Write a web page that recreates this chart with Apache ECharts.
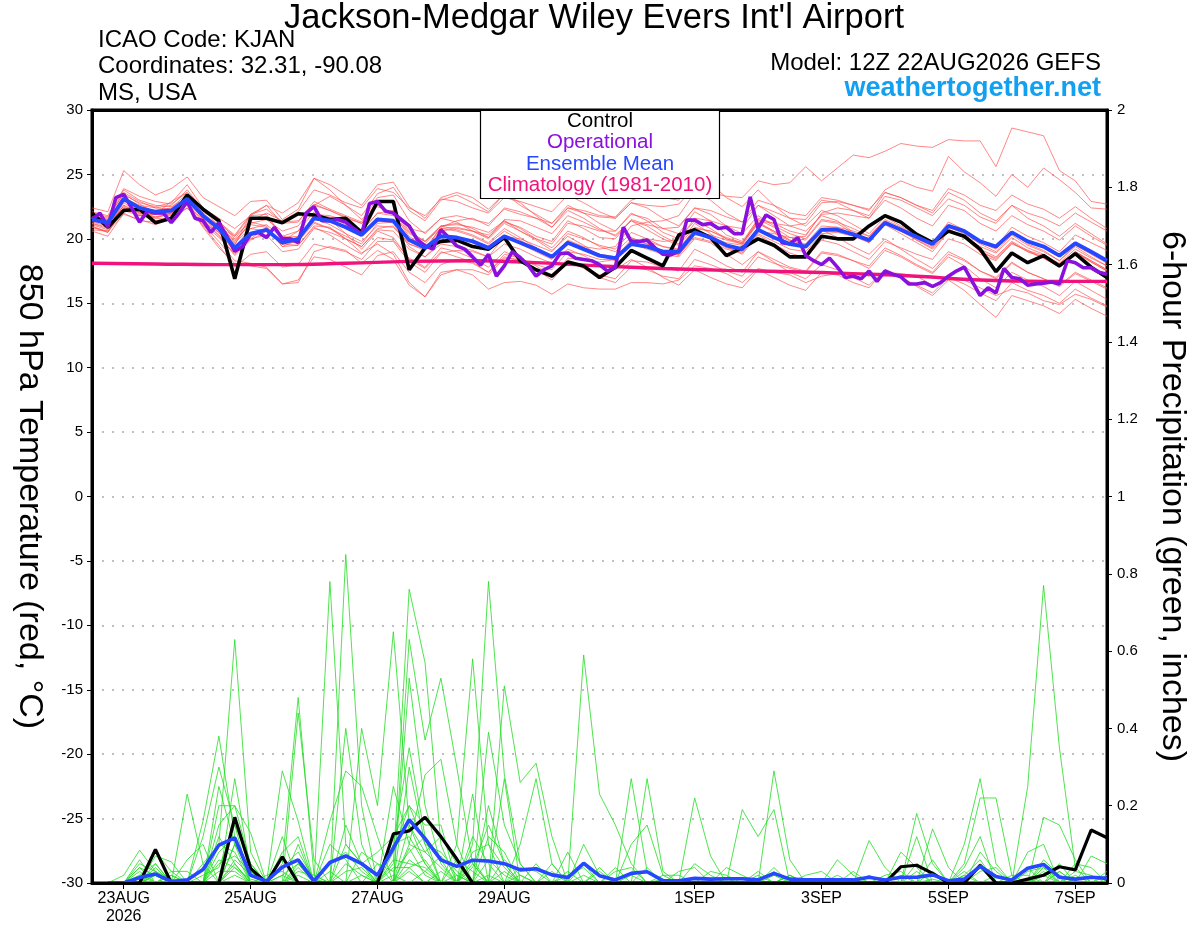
<!DOCTYPE html>
<html>
<head>
<meta charset="utf-8">
<title>KJAN GEFS 850 hPa temperature and 6-hour precipitation</title>
<script src="https://cdn.jsdelivr.net/npm/echarts@6/dist/echarts.min.js"></script>
<style>
  html, body { margin: 0; padding: 0; background: #fff; }
  #chart { width: 1200px; height: 927px; }
</style>
</head>
<body>
<div id="chart"></div>
<script>
// Hours are counted from the model run, 12Z 22AUG2026.
// Ensemble output comes every 6 h, the operational run every 3 h,
// and 6-hour precipitation starts at hour 6.
var ENS_STEP = 6;
var OPER_STEP = 3;
var CLIM_STEP = 24;
var PRECIP_START = 6;

var dateTickHours = [12, 60, 108, 156, 228, 276, 324, 372];
var dateTickLabels = ['23AUG\n2026', '25AUG', '27AUG', '29AUG', '1SEP', '3SEP', '5SEP', '7SEP'];

// 850 hPa temperature, deg C
var controlTemp = [22.0,20.9,22.2,22.3,21.25,21.6,23.4,22.3, 21.4,16.9,21.6,21.6,21.25,21.95,21.85,21.5,
  21.6,20.5,22.9,22.9,17.6,19.3,19.8,19.9, 19.4,19.2,20.1,18.3,17.6,17.1,18.2,17.9,
  17.0,17.8,19.1,18.5,17.9,20.3,20.7,20.1, 18.7,19.3,20.0,19.5,18.6,18.6,20.2,20.0,
  20.0,21.0,21.8,21.3,20.35,19.7,20.6,20.2, 19.2,17.45,18.9,18.15,18.7,17.9,18.85,17.8, 17.0];

var meanTemp = [21.5,21.25,23.1,22.4,22.1,22.2,23.1,21.8, 20.8,19.3,20.4,20.7,19.7,20.0,21.6,21.4,
  20.9,20.3,21.5,21.4,19.9,19.3,20.2,20.1, 19.8,19.3,20.2,19.7,19.2,18.6,19.7,19.2,
  18.7,18.5,19.6,19.4,19.0,19.0,20.5,20.1, 19.5,19.2,20.7,20.1,19.6,19.4,20.7,20.7,
  20.35,19.9,21.25,20.7,20.15,19.6,21.0,20.6, 19.8,19.4,20.5,19.8,19.4,18.7,19.65,19.0, 18.3];

var operTemp = [21.5,22.0,20.9,23.2,23.45,22.4,21.3,22.15,22.0,22.0,21.25,22.0,22.9,21.6,21.4,20.5,
  21.25,20.2,19.05,19.4,20.35,20.5,20.1,20.9,20.0,20.0,19.7,22.0,22.5,21.4,21.4,21.5,
  21.3,20.8,20.35,22.75,22.9,22.15,22.0,21.5,21.0,19.95,19.45,19.2,20.7,20.1,19.45,19.2,
  18.6,17.95,18.8,17.1,17.9,19.0,18.55,17.95,17.1,17.6,17.9,18.85,18.9,18.5,18.4,18.3,
  18.0,17.5,17.8,20.9,19.8,19.8,19.9,19.3,18.8,18.75,19.05,21.45,21.45,21.1,21.2,20.8,
  20.9,20.4,20.4,23.25,20.8,21.85,21.5,19.7,19.6,20.1,18.7,18.3,18.0,18.5,17.8,17.0,
  17.1,16.9,17.5,16.7,17.5,17.25,17.05,16.5,16.5,16.6,16.3,16.6,17.1,17.5,17.8,16.7,
  15.6,16.2,15.8,17.7,17.0,16.9,16.4,16.5,16.55,16.65,16.5,18.3,18.15,17.75,17.75,17.4, 17.25];

var climTemp = [18.1,18.05,18.0,18.0,18.1,18.25,18.3,18.15,17.9,17.7,17.55,17.45,17.3,17.1,16.8,16.7,16.7];

var tempMembers = [
  [21.8,21.5,23.6,22.9,22.4,22.6,23.8,22.3, 21.0,19.8,21.2,21.5,20.6,21.0,22.6,22.2, 21.6,21.2,22.5,22.0,20.8,20.5,21.6,21.8, 21.5,21.2,22.3,21.9,21.6,21.2,22.4,22.0, 21.7,21.6,22.8,22.6,22.5,22.7,24.0,23.6, 23.3,23.2,24.5,24.2,24.35,25.6,24.5,25.5, 26.5,26.3,26.8,27.4,27.2,27.1,27.7,27.6, 27.6,25.6,28.6,28.3,28.0,25.3,24.5,22.9, 22.7],
  [21.2,20.8,22.8,22.0,21.6,22.0,23.4,21.5, 20.2,18.8,20.0,20.9,19.4,19.9,21.9,21.8, 21.4,20.6,22.0,22.2,20.6,19.8,21.0,21.2, 20.8,20.1,21.3,20.9,20.2,19.8,21.4,20.8, 20.1,20.0,21.5,21.1,20.8,20.9,22.4,22.2, 21.7,21.3,23.0,22.6,22.0,21.8,23.2,23.0, 22.6,22.2,23.8,24.5,24.0,23.7,26.4,25.2, 24.35,23.3,25.0,24.0,25.5,24.6,23.6,22.4, 22.3],
  [20.7,20.6,21.9,21.5,21.1,21.6,22.7,20.9, 19.3,18.1,17.9,17.7,16.5,16.6,19.0,19.4, 19.1,18.1,19.1,18.4,16.4,15.5,17.4,17.6, 17.2,16.1,16.6,16.7,16.4,15.7,16.5,16.2, 16.1,16.1,16.6,16.6,16.5,16.8,17.9,17.7, 17.3,16.6,17.7,17.4,17.2,16.6,17.1,17.3, 17.3,17.1,17.4,17.3,17.1,16.4,16.8,16.8, 16.2,15.6,16.1,15.8,15.2,14.9,15.7,15.3, 14.7],
  [22.4,22.1,25.3,24.2,23.4,23.9,24.8,23.2, 22.5,21.8,22.9,23.0,21.5,22.3,24.7,23.8, 22.6,21.8,23.5,24.0,22.2,21.4,23.0,23.4, 22.8,22.1,23.5,22.6,21.9,21.2,22.6,22.0, 21.2,20.6,21.9,21.6,20.8,20.4,22.1,21.4, 20.3,19.8,21.5,20.9,20.1,19.9,21.4,21.2, 20.4,19.7,21.3,20.8,19.9,19.2,20.6,20.1, 19.0,18.4,19.6,19.1,18.5,17.8,18.9,18.2, 17.5],
  [21.0,20.5,22.4,21.8,21.9,22.9,23.6,22.4, 21.6,20.8,21.8,21.9,20.2,20.6,22.1,21.5, 20.4,19.2,20.6,20.1,18.4,17.7,19.0,18.6, 18.2,17.4,18.6,18.3,17.6,17.0,18.5,18.4, 18.2,18.4,19.8,20.0,19.8,19.9,21.6,21.4, 21.0,20.8,22.6,22.1,21.6,21.5,23.0,22.8, 22.2,21.6,23.0,22.4,21.6,21.0,22.6,22.2, 21.2,20.6,21.8,21.1,20.6,19.9,21.0,20.2, 19.5],
  [21.9,21.6,23.8,23.0,22.6,22.5,23.2,21.6, 20.9,20.2,21.8,22.6,22.0,22.8,24.7,24.2, 23.4,22.6,24.2,24.4,22.5,21.6,23.2,23.6, 23.2,22.3,23.5,22.8,21.8,20.9,22.2,21.6, 20.8,20.2,21.4,21.0,20.2,19.6,21.2,20.4, 19.4,18.8,20.3,19.6,18.9,18.5,19.9,19.6, 19.0,18.4,19.8,19.3,18.8,18.4,20.0,19.6, 18.8,18.3,19.7,19.0,18.6,17.9,19.0,18.3, 17.6],
  [21.2,20.9,22.6,22.0,21.6,21.5,22.4,21.1, 19.8,18.3,18.1,17.8,16.5,16.8,18.6,18.4, 17.8,17.2,18.7,19.0,17.4,16.6,18.0,18.4, 18.1,17.4,18.8,18.5,17.6,16.8,18.2,17.8, 17.2,16.9,18.3,18.2,17.8,17.5,19.2,18.6, 17.9,17.4,19.0,18.4,17.8,17.5,19.0,18.8, 18.3,17.7,19.1,18.6,17.9,17.3,18.6,17.9, 16.9,16.2,17.4,16.8,16.3,15.6,16.7,16.0, 15.3],
  [21.6,21.3,23.4,22.8,22.5,22.8,24.2,22.4, 21.2,20.2,21.3,21.0,19.6,19.8,21.2,20.8, 20.0,19.4,20.8,21.0,19.6,19.1,20.9,21.4, 21.6,21.0,22.4,22.1,21.6,20.9,22.4,22.2, 21.8,21.7,23.0,23.4,23.2,23.0,25.1,24.3, 23.2,22.5,23.8,22.6,21.6,21.0,22.2,21.8, 21.1,20.4,21.7,21.0,20.3,19.6,20.8,20.1, 19.0,18.5,19.7,19.0,18.5,17.8,19.0,18.2, 17.5],
  [20.9,20.6,22.2,21.8,21.7,22.0,23.0,21.9, 20.6,19.5,21.9,22.6,21.2,21.3,22.9,22.3, 21.8,21.3,23.2,23.4,21.4,20.4,21.6,21.3, 20.6,20.0,21.2,20.6,20.0,19.6,21.2,21.0, 20.6,20.6,22.0,21.4,20.5,20.0,21.4,20.8, 20.0,19.6,21.6,21.2,20.6,20.3,21.9,22.0, 21.8,21.6,23.3,23.0,22.4,21.8,23.1,22.6, 21.7,21.2,22.6,22.0,21.6,21.0,22.0,21.3, 20.6],
  [21.4,21.1,23.0,22.2,21.9,22.0,22.9,21.6, 20.6,19.0,20.0,20.3,19.0,19.2,20.8,20.5, 20.0,19.4,20.7,20.6,19.2,18.6,19.6,19.4, 19.1,18.6,19.6,19.2,18.6,18.1,19.2,18.7, 18.0,17.6,18.4,17.8,17.0,16.4,17.6,17.0, 16.5,16.2,17.6,17.0,16.4,16.0,17.4,17.2, 16.6,16.2,17.6,17.0,16.3,15.6,16.8,16.0, 14.9,13.9,15.6,15.2,14.8,14.2,15.3,14.6, 14.0],
  [21.7,21.5,23.2,22.6,22.4,22.3,23.1,21.8, 20.9,19.6,21.4,22.0,21.4,22.1,23.8,23.4, 22.8,22.4,23.9,23.6,22.4,21.8,23.1,22.9, 22.4,22.0,23.2,22.9,22.5,22.1,23.4,22.8, 22.1,21.6,22.8,22.4,21.6,21.0,22.4,21.9, 21.0,20.4,21.8,21.0,20.4,20.0,21.5,21.3, 20.8,20.2,21.4,20.7,20.0,19.4,20.9,20.4, 19.6,19.0,20.3,19.5,19.0,18.3,19.5,18.8, 18.1],
  [20.6,20.2,22.0,21.4,21.3,21.6,22.8,21.4, 20.3,18.7,19.9,20.6,19.8,20.6,22.6,23.3, 22.6,21.5,22.7,21.9,20.2,19.3,20.8,20.9, 20.6,20.1,21.5,21.4,20.9,20.4,21.8,21.3, 20.7,20.3,21.4,20.7,20.0,19.5,20.9,20.6, 20.0,19.7,21.2,20.6,19.9,19.5,20.7,20.1, 19.4,18.8,20.0,19.2,18.4,17.7,19.0,18.4, 17.5,17.0,18.2,17.4,16.9,16.4,17.4,16.8, 16.2],
  [22.0,21.7,23.5,22.7,22.0,21.8,22.6,21.0, 19.5,17.8,18.8,19.0,17.8,18.0,19.6,19.3, 19.0,18.4,19.8,19.8,18.2,17.4,18.9,19.1, 19.0,18.6,20.2,20.0,19.5,19.0,20.4,20.0, 19.5,19.2,20.5,20.0,19.4,19.1,20.5,20.0, 19.3,19.0,20.6,20.4,20.1,20.2,22.0,22.4, 22.2,21.8,23.6,23.2,22.6,22.0,23.6,23.0, 22.0,21.4,22.6,21.6,21.0,20.2,21.2,20.4, 19.6],
  [21.3,21.0,22.9,22.4,22.2,22.4,23.5,22.0, 21.0,19.9,21.1,20.9,19.4,19.5,21.0,20.9, 20.0,18.9,19.6,18.8,16.6,15.5,17.2,17.6, 17.6,17.2,18.5,18.4,18.0,17.6,19.0,18.8, 18.4,18.4,19.9,19.6,19.1,18.7,20.3,20.1, 19.7,19.5,21.2,20.5,19.8,19.4,20.8,20.9, 20.6,20.2,21.5,20.9,20.2,19.7,21.3,20.7, 19.7,19.2,20.5,19.6,19.1,18.3,19.4,18.6, 17.9],
  [21.8,21.4,23.0,22.1,21.7,21.9,22.7,21.3, 20.5,19.4,20.8,21.1,20.1,20.2,21.6,21.1, 20.4,19.8,21.0,20.9,19.6,19.2,20.6,20.8, 20.6,20.3,21.4,20.8,20.0,19.3,20.6,20.1, 19.4,19.0,20.1,19.6,19.0,18.8,20.1,19.8, 19.2,18.9,20.4,19.8,19.2,19.0,20.4,20.5, 20.2,19.7,21.1,20.4,19.7,19.0,20.6,20.2, 19.4,18.9,20.1,19.3,18.8,18.0,19.0,18.3, 17.6],
  [21.1,20.7,22.6,21.9,21.4,21.6,22.4,21.2, 20.1,18.9,20.4,20.8,19.6,19.5,20.9,20.3, 19.5,18.8,20.1,19.9,18.5,17.8,19.3,19.0, 18.5,17.8,19.0,18.5,17.9,17.1,18.3,17.7, 17.0,16.6,17.8,17.6,17.1,16.9,18.4,18.0, 17.5,17.1,18.6,18.1,17.7,17.4,18.9,18.7, 18.3,17.9,19.3,18.7,18.0,17.4,18.8,18.3, 17.5,16.9,18.1,17.4,16.9,16.3,17.3,16.7, 16.1],
  [22.1,21.8,23.9,23.3,22.9,22.7,23.6,22.1, 21.3,20.3,21.9,22.3,21.3,21.4,22.7,22.2, 21.7,21.2,22.6,22.0,20.5,19.8,21.0,20.7, 20.3,19.7,20.8,20.1,19.3,18.6,19.9,19.4, 19.2,19.4,21.0,21.3,21.4,21.8,23.6,23.0, 22.0,21.3,22.6,21.8,21.0,20.6,21.8,21.4, 20.5,20.0,21.3,20.8,20.2,19.5,20.9,20.6, 19.8,19.4,20.9,20.2,19.7,19.0,20.3,19.7, 19.1],
  [21.5,21.2,22.5,21.8,21.9,22.2,23.0,21.8, 21.0,19.7,20.8,20.6,19.6,20.1,21.5,21.3, 21.0,20.6,22.0,21.8,20.4,19.8,20.8,20.6, 20.2,19.6,20.6,19.9,19.2,18.6,19.8,19.3, 18.8,18.4,19.6,19.2,18.8,18.6,20.0,19.7, 18.8,18.0,19.0,18.2,17.4,16.9,18.0,17.6, 17.0,16.4,17.6,17.0,16.4,15.8,17.0,16.5, 15.8,15.2,16.6,16.0,15.6,15.0,16.1,15.4, 14.8],
  [20.9,20.5,22.4,22.1,21.9,22.1,23.3,22.2, 21.4,20.0,21.5,21.7,20.2,20.0,21.3,20.8, 20.2,19.6,21.2,21.3,20.0,19.6,21.0,21.1, 20.9,20.5,21.4,20.6,19.9,19.1,20.2,19.5, 18.7,18.3,19.5,19.4,19.0,18.8,20.5,20.3, 19.9,19.6,21.4,21.2,21.0,21.2,22.8,22.9, 22.6,22.3,23.6,23.2,22.6,22.2,23.9,23.4, 22.6,22.2,23.4,22.7,22.3,21.6,22.5,21.6, 20.8],
  [21.6,21.2,23.2,22.5,22.1,22.0,23.0,21.5, 20.5,19.0,20.3,20.6,19.6,20.0,21.8,21.7, 21.1,20.4,21.6,21.2,19.4,18.6,19.9,19.8, 19.5,19.1,20.2,19.6,19.0,18.4,19.7,19.3, 18.8,18.6,19.9,19.8,19.4,19.2,20.8,20.6, 20.1,19.7,21.3,20.6,19.9,19.6,21.0,20.9, 20.3,19.8,21.2,20.6,19.9,19.3,20.7,20.1, 19.2,18.6,19.8,19.1,18.7,18.1,19.2,18.5, 17.9]
];

// 6-hour precipitation, inches, hours 6..384
var controlPrecip = [0,0,0,0.087,0,0,0,0, 0.17,0.038,0,0.068,0,0,0,0, 0,0,0.127,0.135,0.17,0.12,0.062,0,
  0,0,0,0,0,0,0,0, 0,0,0,0,0,0,0,0, 0,0,0,0,0,0,0,0,
  0,0,0.042,0.046,0.025,0,0,0.046, 0,0,0.01,0.02,0.042,0.034,0.137,0.117];

var meanPrecip = [0,0,0.014,0.023,0.004,0.008,0.035,0.098, 0.117,0.02,0.005,0.041,0.06,0.005,0.053,0.07,
  0.05,0.02,0.09,0.164,0.115,0.06,0.043,0.059, 0.057,0.05,0.034,0.037,0.021,0.014,0.051,0.019,
  0.008,0.025,0.029,0.006,0.006,0.012,0.01,0.011, 0.011,0.008,0.025,0.01,0.008,0.008,0.008,0.008,
  0.015,0.008,0.015,0.015,0.021,0.006,0.01,0.043, 0.017,0.008,0.038,0.048,0.015,0.01,0.015,0.012];

var precipMembers = [
  [0,0,.02,.05,0,0,0,.10, .63,.08,0,.05,.48,.02,0,0, 0,0,.1,.35,.12,0,0,0, .2,.05,0,0,0,0,.05,0, 0,0,0,0,0,0,0,0, 0,0,.04,0,0,0,0,0, 0,0,0,0,0,0,0,.05, 0,0,.25,.77,.35,.04,0,0],
  [0,0,0,.08,.03,0,.16,.38, .12,0,0,0,.1,0,.78,.1, .05,0,0,.53,.2,.05,0,.1, .78,.28,.05,0,0,0,0,0, 0,.27,.03,0,0,0,0,0, 0,0,0,0,0,0,0,0, 0,0,0,.18,.05,0,0,0, 0,0,0,0,0,0,0,0],
  [0,0,.06,0,0,.23,.05,0, .27,.03,0,.29,.16,0,0,.85, .2,0,.05,.76,.57,.1,0,.23, 0,.51,.26,.31,.12,0,0,0, .04,0,0,0,0,.22,.07,0, 0,0,0,0,0,0,0,0, 0,0,0,0,0,0,.1,.27, .05,0,0,0,0,0,0,0],
  [0,.02,.085,.03,0,0,0,.2, .2,.13,0,0,.44,.06,0,0, .4,.2,.65,.15,.05,0,.1,.58, .1,0,0,0,0,0,.59,.23, .15,.05,0,0,0,0,0,0, 0,0,0,0,0,0,0,0, .11,.04,0,0,0,0,0,0, 0,0,0,0,0,0,0,0],
  [0,0,0,.07,.055,0,.12,.3, .15,0,0,.12,0,0,.16,.29, .25,.12,0,.63,.37,.53,.3,.05, 0,0,0,0,0,0,0,0, 0,0,.27,.03,0,0,0,0, 0,0,.29,.06,0,0,0,0, 0,0,0,0,0,0,0,0, 0,0,0,.17,.15,.06,0,0],
  [0,0,.04,0,.02,0,0,.25, .1,.03,0,0,0,0,0,0, 0,0,.25,.1,.28,.32,.1,0, .39,.15,.05,0,0,0,0,0, 0,0,0,0,0,0,0,0, .19,.12,.19,0,0,0,0,0, 0,0,0,0,.14,.04,0,0, 0,0,.08,.1,0,0,.07,.05],
  [0,0,0,.04,0,.06,.1,0, .1,0,0,0,.05,0,0,.15, .05,.08,.12,.2,.15,.15,0,.06, 0,.27,0,.05,0,.08,0,.04, 0,0,0,0,0,0,0,0, 0,0,0,0,0,0,.06,.02, 0,0,0,.12,0,0,.05,.22, .22,.02,0,0,0,0,0,0],
  [0,0,.03,0,0,0,0,.15, .2,.05,0,.08,.12,0,0,.4, .1,0,0,.3,.1,0,0,.12, .05,0,0,0,.05,0,0,0, 0,.1,.15,.02,0,0,0,0, 0,0,0,0,0,0,0,0, 0,0,.08,.04,0,0,.04,.12, 0,0,.04,0,.05,0,0,0],
  [0,0,0,.02,0,0,.05,.1, .08,0,.02,.03,0,0,.1,.06, 0,0,.08,.2,.1,.08,.03,0, 0,0,.1,.27,.05,0,0,0, 0,0,0,0,0,.05,.02,0, 0,0,0,.02,0,0,0,0, 0,0,0,0,.06,0,0,0, 0,0,0,.05,0,.03,.02,0],
  [0,0,.05,.03,0,0,0,.12, .05,0,0,0,.03,.02,0,0, .08,.05,0,.15,.08,.12,.05,0, .12,.08,0,0,0,0,.1,.02, 0,0,0,0,0,0,0,.04, .02,0,0,0,0,0,0,0, 0,.02,.03,0,0,0,0,.08, .03,0,0,0,.03,0,0,.02],
  [0,0,0,0,.03,.03,0,.08, .12,.02,0,0,0,0,0,.1, .05,0,.1,.12,.05,0,0,.08, .1,.04,0,0,0,.03,0,0, 0,0,0,.02,.02,0,0,0, 0,0,0,0,.02,.03,0,0, 0,0,0,0,0,0,.02,.06, 0,0,0,.06,.02,0,0,0],
  [0,0,.01,.02,0,0,0,0, .06,.02,0,.04,.08,.01,0,0, 0,.05,.03,.08,.12,.06,0,0, 0,.06,.02,0,0,0,0,0, .03,.04,0,0,0,0,0,0, 0,0,.03,0,0,0,0,0, .02,0,0,.05,.02,0,0,0, 0,0,.03,.04,0,0,0,0],
  [0,0,0,.05,0,0,.02,.04, .15,.05,0,0,0,0,.05,.08, .03,0,0,.1,.08,.04,0,.04, .15,.05,0,0,0,0,0,0, 0,0,.04,0,0,0,0,0, 0,.03,0,.02,0,0,0,0, 0,0,0,0,0,0,0,.03, .04,0,0,0,0,.05,.04,0],
  [0,0,.02,0,0,0,0,.06, .04,0,0,.02,.05,0,0,0, 0,0,.06,.05,.04,0,.06,.03, 0,0,0,0,0,.02,.04,0, 0,0,0,0,0,0,.03,.02, 0,0,0,0,0,0,0,.03, 0,0,0,0,0,0,.03,0, 0,0,0,.04,.02,0,0,0],
  [0,0,0,.03,.01,0,0,0, .1,.04,0,0,0,0,0,.05, .02,0,0,.06,.03,.07,.02,0, 0,0,.04,.03,0,0,0,0, 0,0,0,0,.03,.04,0,0, 0,0,0,0,0,0,.02,0, 0,0,0,0,.03,0,0,0, 0,.02,.02,0,0,0,0,0],
  [0,0,0,0,0,0,0,.05, .07,.03,0,0,.04,0,0,0, 0,0,.04,.04,.06,0,0,0, .06,.02,0,0,0,0,0,.03, 0,0,0,0,0,0,0,0, 0,0,0,.02,0,0,0,0, 0,0,.02,0,0,0,0,.04, 0,0,0,.03,0,0,0,.03],
  [0,0,.04,.02,0,0,0,0, .05,0,0,0,0,0,0,.03, .04,0,0,.09,.02,0,0,.05, 0,0,0,0,.03,0,0,0, 0,0,0,.01,0,0,0,0, 0,.02,0,0,0,0,0,0, 0,0,0,.03,0,0,0,0, 0,0,0,0,.03,0,0,0],
  [0,0,0,.02,0,0,0,.03, .03,0,0,.02,0,0,.03,0, 0,0,0,.04,0,.03,0,0, 0,.03,0,0,0,0,0,0, 0,.02,0,0,0,0,0,0, 0,0,.02,0,0,0,0,0, 0,0,0,0,0,0,.02,0, 0,0,0,0,0,.02,0,0],
  [0,0,0,0,.02,0,0,0, .02,0,0,0,.02,0,0,0, 0,0,.02,0,.03,0,0,0, .02,0,0,0,0,0,.02,0, 0,0,0,0,0,0,0,0, 0,0,0,0,0,0,0,.01, 0,0,0,0,0,0,0,0, .02,0,0,.02,0,0,0,0],
  [0,0,.01,0,0,0,0,0, .04,.01,0,0,0,0,0,0, .02,0,0,.03,0,0,.02,0, 0,0,.02,0,0,0,0,0, 0,0,0,0,0,0,0,.01, 0,0,0,0,0,0,0,0, 0,0,0,0,.01,0,0,0, 0,0,.01,0,0,0,0,0]
];

var FONT = '"Liberation Sans", Arial, Helvetica, sans-serif';
var COLORS = {
  member: '#ff4f4f',
  precipMember: '#22dd22',
  control: '#000000',
  oper: '#8a10de',
  mean: '#2646ff',
  clim: '#ef137b',
  site: '#14a0f0'
};

function pairs(values, step, start) {
  return values.map(function (v, i) { return [start + i * step, v]; });
}

function lineSeries(name, data, axis, color, width, extra) {
  var s = {
    name: name,
    type: 'line',
    yAxisIndex: axis,
    data: data,
    symbol: 'none',
    silent: true,
    animation: false,
    lineStyle: { color: color, width: width },
    itemStyle: { color: color }
  };
  for (var k in extra || {}) s[k] = extra[k];
  return s;
}

var series = [];
precipMembers.forEach(function (m, i) {
  series.push(lineSeries('precip member ' + (i + 1), pairs(m, ENS_STEP, PRECIP_START), 1, COLORS.precipMember, 0.8));
});
tempMembers.forEach(function (m, i) {
  series.push(lineSeries('member ' + (i + 1), pairs(m, ENS_STEP, 0), 0, COLORS.member, 0.8,
    { lineStyle: { color: COLORS.member, width: 0.8, opacity: 0.85 } }));
});
series.push(lineSeries('Climatology (1981-2010)', pairs(climTemp, CLIM_STEP, 0), 0, COLORS.clim, 3.4, { smooth: true }));
series.push(lineSeries('Control precip', pairs(controlPrecip, ENS_STEP, PRECIP_START), 1, COLORS.control, 3.2));
series.push(lineSeries('Mean precip', pairs(meanPrecip, ENS_STEP, PRECIP_START), 1, COLORS.mean, 3.6));
series.push(lineSeries('Control', pairs(controlTemp, ENS_STEP, 0), 0, COLORS.control, 3.6));
series.push(lineSeries('Operational', pairs(operTemp, OPER_STEP, 0), 0, COLORS.oper, 3.6));
series.push(lineSeries('Ensemble Mean', pairs(meanTemp, ENS_STEP, 0), 0, COLORS.mean, 3.9));

function headerText(text, x, y, size, align, color, weight) {
  return {
    type: 'text', x: x, y: y, z: 100, silent: true,
    style: {
      text: text, fill: color || '#000',
      font: (weight || 'normal') + ' ' + size + 'px ' + FONT,
      textAlign: align, textVerticalAlign: 'middle',
      align: align, verticalAlign: 'middle'
    }
  };
}

var legendItems = [
  ['Control', COLORS.control],
  ['Operational', COLORS.oper],
  ['Ensemble Mean', COLORS.mean],
  ['Climatology (1981-2010)', COLORS.clim]
];

var graphics = [
  headerText("Jackson-Medgar Wiley Evers Int'l Airport", 594, 18, 34.5, 'center'),
  headerText('ICAO Code: KJAN', 98, 40, 24, 'left'),
  headerText('Coordinates: 32.31, -90.08', 98, 66, 24, 'left'),
  headerText('MS, USA', 98, 93, 24, 'left'),
  headerText('Model: 12Z 22AUG2026 GEFS', 1101, 63, 24, 'right'),
  headerText('weathertogether.net', 1101, 89, 27, 'right', COLORS.site, 'bold'),
  {
    type: 'rect', z: 99, silent: true,
    shape: { x: 480.5, y: 110.5, width: 239, height: 88 },
    style: { fill: '#fff', stroke: '#000', lineWidth: 1.2 }
  }
];
legendItems.forEach(function (item, i) {
  graphics.push(headerText(item[0], 600, 121 + i * 21.5, 20.5, 'center', item[1]));
});

var option = {
  animation: false,
  backgroundColor: '#fff',
  textStyle: { fontFamily: FONT },
  grid: {
    left: 92, right: 93, top: 110, bottom: 44,
    outerBoundsMode: 'none',
    containLabel: false,
    show: true, borderColor: '#000', borderWidth: 3, backgroundColor: 'transparent'
  },
  xAxis: [{
    type: 'value', min: 0, max: 384, position: 'bottom', z: 10,
    axisLine: { show: true, onZero: false, lineStyle: { color: '#000', width: 3 } },
    axisTick: { show: true, customValues: dateTickHours, length: 6, lineStyle: { color: '#000', width: 1 } },
    axisLabel: {
      customValues: dateTickHours,
      formatter: function (v) {
        var k = dateTickHours.indexOf(v);
        return k < 0 ? '' : dateTickLabels[k];
      },
      color: '#000', fontFamily: FONT, fontSize: 16, margin: 7, lineHeight: 18
    },
    splitLine: { show: false }
  }, {
    type: 'value', min: 0, max: 384, position: 'top', z: 10,
    axisLine: { show: true, onZero: false, lineStyle: { color: '#000', width: 3 } },
    axisTick: { show: false }, axisLabel: { show: false }, splitLine: { show: false }
  }],
  yAxis: [{
    type: 'value', min: -30, max: 30, interval: 5, position: 'left',
    name: '850 hPa Temperature (red, \u00B0C)', nameLocation: 'middle', nameRotate: -90, nameGap: 46,
    nameTextStyle: { fontFamily: FONT, fontSize: 34, color: '#000' },
    axisLine: { show: true, onZero: false, lineStyle: { color: '#000', width: 3 } },
    axisTick: { show: true, length: 5, lineStyle: { color: '#000', width: 1 } },
    axisLabel: { color: '#000', fontFamily: FONT, fontSize: 15, margin: 9 },
    splitLine: { show: true, lineStyle: { color: '#aaaaaa', type: [2, 8], width: 1.5 } }
  }, {
    type: 'value', min: 0, max: 2, interval: 0.2, position: 'right',
    name: '6-hour Precipitation (green, inches)', nameLocation: 'middle', nameRotate: -90, nameGap: 48,
    nameTextStyle: { fontFamily: FONT, fontSize: 34, color: '#000' },
    axisLine: { show: true, onZero: false, lineStyle: { color: '#000', width: 3 } },
    axisTick: { show: true, length: 5, lineStyle: { color: '#000', width: 1 } },
    axisLabel: { color: '#000', fontFamily: FONT, fontSize: 15, margin: 10 },
    splitLine: { show: false }
  }],
  graphic: graphics,
  series: series
};

var chart = echarts.init(document.getElementById('chart'));
chart.setOption(option);
</script>
</body>
</html>
